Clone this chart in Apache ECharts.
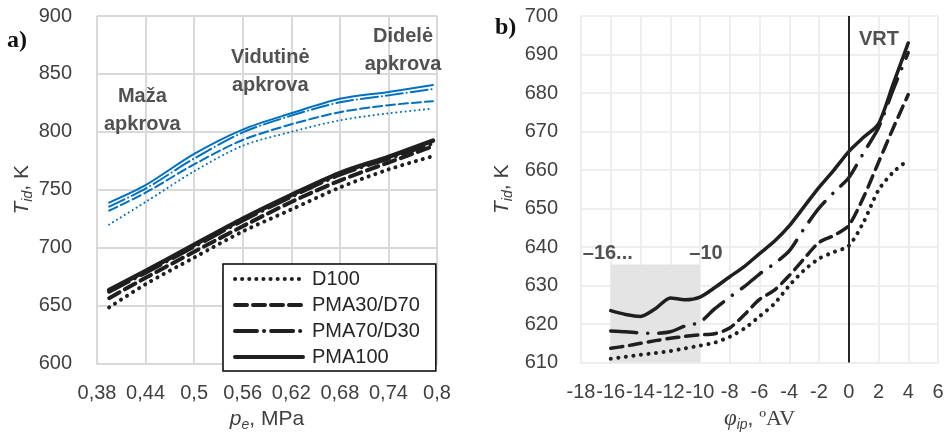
<!DOCTYPE html>
<html><head><meta charset="utf-8">
<script src="https://cdn.jsdelivr.net/npm/echarts@6/dist/echarts.min.js"></script>
<style>html,body{margin:0;padding:0;background:#fff}#c{width:949px;height:437px}</style>
</head><body><div id="c"></div>
<script>
// ---------- data ----------
const seriesNames = ['D100', 'PMA30/D70', 'PMA70/D30', 'PMA100'];

// left panel a)
const leftXTicks = ['0,38', '0,44', '0,5', '0,56', '0,62', '0,68', '0,74', '0,8'];
const leftX = [0.395, 0.44, 0.5, 0.56, 0.62, 0.68, 0.74, 0.795];
const blueD100   = [720, 739.5, 766, 788, 800, 810, 816, 820];
const bluePMA30  = [732, 747.5, 772, 793, 806.5, 817, 823, 826.5];
const bluePMA70  = [735.5, 751, 777, 799.5, 814, 825.5, 831.5, 837];
const bluePMA100 = [739, 754, 781, 802, 816, 828.5, 834.5, 840.5];
const blackD100   = [648.5, 668.5, 691.5, 714, 733, 752, 767.5, 779];
const blackPMA30  = [656.5, 674, 696.5, 718.5, 739.5, 758, 773.5, 787.5];
const blackPMA70  = [662, 678.5, 701, 723.5, 744, 763, 777, 790];
const blackPMA100 = [663.5, 680, 702.5, 725, 745.5, 764.5, 778.5, 792.5];
const leftLabels = [
  {lines: ['Maža', 'apkrova'], x: 0.436, y: 818.5},
  {lines: ['Vidutinė', 'apkrova'], x: 0.594, y: 852},
  {lines: ['Didelė', 'apkrova'], x: 0.758, y: 870}
];

// right panel b)
const rightX = [-16, -15, -14, -13, -12, -11, -10, -9, -8, -7, -6, -5, -4, -3, -2, -1, 0, 1, 2, 3, 4];
const rD100   = [611, 611.5, 612, 612.5, 613, 613.7, 614.4, 615.2, 616.7, 618.9, 622, 625.3, 630, 634, 637, 638.7, 640.3, 646.5, 654.8, 659.5, 662.6];
const rPMA30  = [613.7, 614.3, 615, 615.7, 616.3, 616.8, 617.2, 617.5, 619, 622.5, 626.4, 628.8, 632.6, 637, 641.2, 643, 645.6, 653, 662, 671, 679.6];
const rPMA70  = [618.2, 618, 617.7, 617.6, 618, 619.5, 620.5, 624, 627, 629.8, 633, 635.7, 639, 644.8, 650.1, 654.2, 658, 664.5, 671, 681, 690.5];
const rPMA100 = [623.5, 622.5, 622, 624, 626.8, 626.3, 627, 629.5, 632.3, 635, 638.3, 641.5, 645.5, 650.5, 655.5, 660, 664.8, 668.5, 672, 682.5, 693];
const shadeRange = {x: [-16, -10], y: [610, 635.5]};
const vrtX = 0;
const rightLabels = [
  {text: '–16...', x: -16.2, y: 638.3},
  {text: '–10', x: -9.6, y: 638.3},
  {text: 'VRT', x: 2.03, y: 693.8}
];

// ---------- styles ----------
const FONT = 'Liberation Sans';
const TXT = '#404040';
const BLUE = '#0070C0';
const BLK = '#1f1f1f';

const dashLeftBlue  = [[0.1, 4.5], [9, 4], [17, 4, 0.1, 4], 'solid'];
const dashLeftBlack = [[0.1, 7], [12, 6], [22, 7, 0.1, 7], 'solid'];
const dashRight     = [[0.1, 7.5], [12, 7], [26, 11, 0.1, 11], 'solid'];

function pairs(xs, ys) { return xs.map((x, i) => [x, ys[i]]); }
function mk(name, xs, ys, xi, yi, color, width, type, smooth) {
  return {
    name, type: 'line', xAxisIndex: xi, yAxisIndex: yi,
    data: pairs(xs, ys), symbol: 'none', showSymbol: false, smooth,
    z: 3, animation: false,
    lineStyle: {color, width, type, cap: 'round', join: 'round'},
    itemStyle: {color}
  };
}

const blackL = [blackD100, blackPMA30, blackPMA70, blackPMA100];
const blueL = [blueD100, bluePMA30, bluePMA70, bluePMA100];
const rightS = [rD100, rPMA30, rPMA70, rPMA100];

const series = [];
blackL.forEach((d, i) => series.push(mk(seriesNames[i], leftX, d, 1, 0, BLK, i === 3 ? 4.5 : 4, dashLeftBlack[i], 0.3)));
blueL.forEach((d, i) => series.push(mk(seriesNames[i], leftX, d, 1, 0, BLUE, 2, dashLeftBlue[i], 0.3)));

// host for shaded area and VRT line
series.push({
  type: 'line', xAxisIndex: 2, yAxisIndex: 1, data: [], symbol: 'none', z: 1, silent: true,
  markArea: {silent: true, itemStyle: {color: '#e4e4e4'},
    data: [[{coord: [shadeRange.x[0], shadeRange.y[0]]}, {coord: [shadeRange.x[1], shadeRange.y[1]]}]]},
  markLine: {silent: true, symbol: 'none', label: {show: false},
    lineStyle: {color: '#262626', width: 2, type: 'solid'}, data: [{xAxis: vrtX}]}
});
rightS.forEach((d, i) => series.push(mk(seriesNames[i] + ' ', rightX, d, 2, 1, BLK, i === 0 ? 4 : 3.5, dashRight[i], 0.25)));

// left-panel annotations (data coords)
series.push({
  type: 'scatter', xAxisIndex: 1, yAxisIndex: 0, symbolSize: 0, silent: true, z: 5,
  data: leftLabels.map(l => ({value: [l.x, l.y], label: {formatter: l.lines.join('\n')}})),
  label: {show: true, position: 'inside', fontFamily: FONT, fontSize: 20, fontWeight: 'bold',
    color: '#262626', lineHeight: 28, align: 'center', verticalAlign: 'middle'}
});
// right-panel annotations
series.push({
  type: 'scatter', xAxisIndex: 2, yAxisIndex: 1, symbolSize: 0, silent: true, z: 5,
  data: rightLabels.map(l => ({value: [l.x, l.y], label: {formatter: l.text}})),
  label: {show: true, position: 'inside', fontFamily: FONT, fontSize: 20, fontWeight: 'bold',
    color: '#262626', align: 'center', verticalAlign: 'middle'}
});

const axisLbl = {fontFamily: FONT, fontSize: 20, color: TXT};
const nameRich = {
  it: {fontFamily: FONT, fontSize: 21, fontStyle: 'italic', color: TXT, lineHeight: 26, verticalAlign: 'middle'},
  sub: {fontFamily: FONT, fontSize: 14, fontStyle: 'italic', color: TXT, lineHeight: 26, verticalAlign: 'bottom'},
  n: {fontFamily: FONT, fontSize: 21, color: TXT, lineHeight: 26, verticalAlign: 'middle'},
  phi: {fontFamily: 'Liberation Serif', fontSize: 23, fontStyle: 'italic', color: TXT, lineHeight: 26, verticalAlign: 'middle'},
  av: {fontFamily: 'Liberation Serif', fontSize: 22, color: TXT, lineHeight: 26, verticalAlign: 'middle'}
};

const option = {
  backgroundColor: '#fff',
  animation: false,
  grid: [
    {left: 97, top: 16, width: 340, height: 350},
    {left: 581, top: 16, width: 357, height: 348}
  ],
  xAxis: [
    {type: 'category', gridIndex: 0, data: leftXTicks, boundaryGap: false,
      axisLine: {show: true, lineStyle: {color: '#d9d9d9', width: 2}}, axisTick: {show: false},
      axisLabel: Object.assign({margin: 20, interval: 0}, axisLbl),
      splitLine: {show: true, interval: 0, lineStyle: {color: '#d9d9d9', width: 2}},
      name: '{it|p}{sub|e}{n|, MPa}', nameLocation: 'middle', nameGap: 42,
      nameTextStyle: {rich: nameRich}},
    {type: 'value', gridIndex: 0, min: 0.38, max: 0.8, show: false},
    {type: 'value', gridIndex: 1, min: -18, max: 6, interval: 2,
      axisLine: {show: true, lineStyle: {color: '#eeeeee', width: 2}}, axisTick: {show: false},
      axisLabel: Object.assign({margin: 20}, axisLbl),
      splitLine: {show: true, lineStyle: {color: '#eeeeee', width: 2}},
      name: '{phi|φ}{sub|ip}{n|, }{av|ºAV}', nameLocation: 'middle', nameGap: 42,
      nameTextStyle: {rich: nameRich}}
  ],
  yAxis: [
    {type: 'value', gridIndex: 0, min: 600, max: 900, interval: 50,
      axisLine: {show: false}, axisTick: {show: false},
      axisLabel: Object.assign({margin: 25}, axisLbl),
      splitLine: {show: true, lineStyle: {color: '#d9d9d9', width: 2}},
      name: '{it|T}{sub|id}{n|, K}', nameLocation: 'middle', nameGap: 58, nameRotate: 90,
      nameTextStyle: {rich: nameRich}},
    {type: 'value', gridIndex: 1, min: 610, max: 700, interval: 10,
      axisLine: {show: false}, axisTick: {show: false},
      axisLabel: Object.assign({margin: 23}, axisLbl),
      splitLine: {show: true, lineStyle: {color: '#eeeeee', width: 2}},
      name: '{it|T}{sub|id}{n|, K}', nameLocation: 'middle', nameGap: 66, nameRotate: 90,
      nameTextStyle: {rich: nameRich}}
  ],
  legend: {
    data: seriesNames, orient: 'vertical', left: 223, top: 264,
    itemWidth: 68, itemHeight: 3, itemGap: 6, padding: [5, 16, 4, 10],
    itemStyle: {opacity: 0},
    lineStyle: {width: 4, cap: 'round'},
    borderColor: '#000', borderWidth: 1.5, backgroundColor: '#fff',
    textStyle: {fontFamily: FONT, fontSize: 20, color: '#262626', lineHeight: 20, padding: [0, 0, 0, 4]},
    selectedMode: false, z: 10
  },
  graphic: [
    {type: 'text', left: 7, top: 29, style: {text: 'a)', font: 'bold 24px "Liberation Serif"', fill: '#111'}},
    {type: 'text', left: 495, top: 16, style: {text: 'b)', font: 'bold 24px "Liberation Serif"', fill: '#111'}}
  ],
  series
};

const chart = echarts.init(document.getElementById('c'), null, {renderer: 'canvas'});
chart.setOption(option);
</script>
</body></html>
